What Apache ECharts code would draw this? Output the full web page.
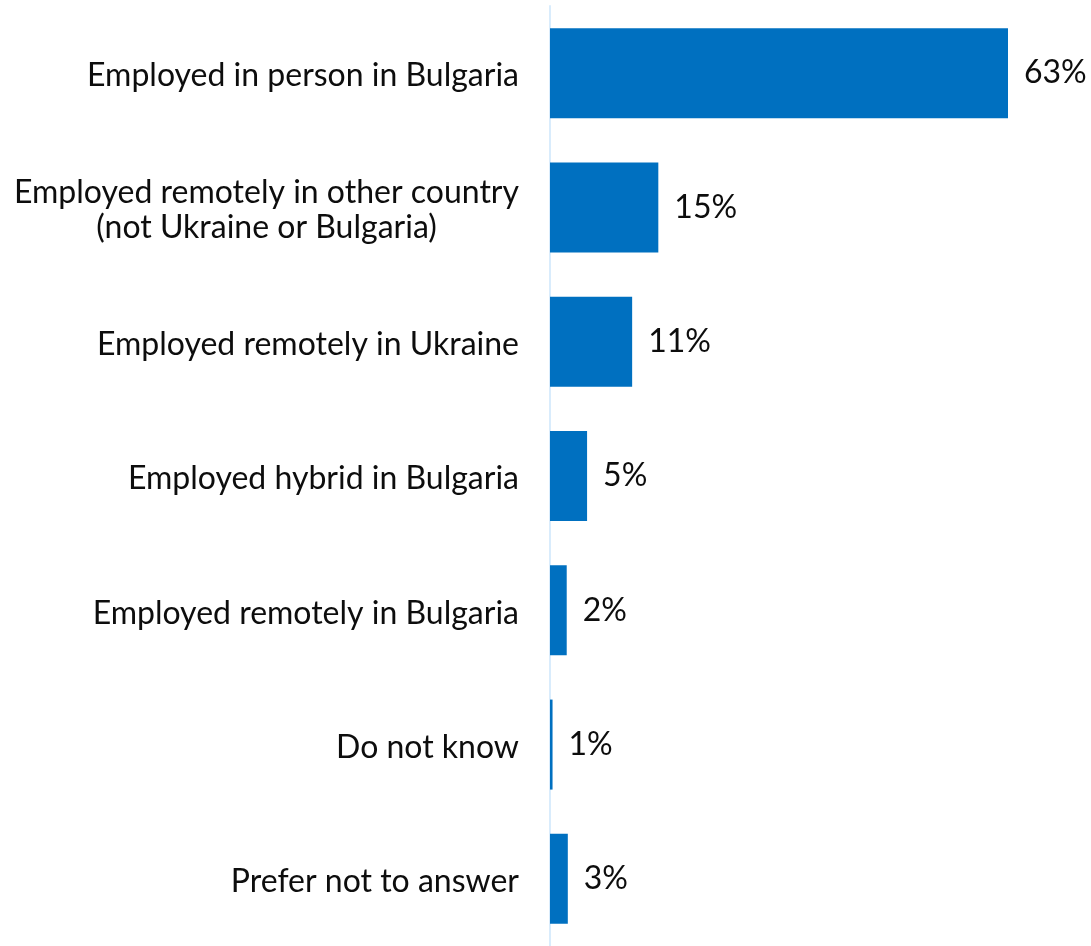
<!DOCTYPE html>
<html>
<head>
<meta charset="utf-8">
<script src="https://cdn.jsdelivr.net/npm/echarts@6/dist/echarts.min.js"></script>
<style>html,body{margin:0;padding:0;background:#fff}#c{width:1091px;height:946px}</style>
</head>
<body>
<div id="c"></div>
<script>
const categories = [
  'Employed in person in Bulgaria',
  'Employed remotely in other country\n(not Ukraine or Bulgaria)',
  'Employed remotely in Ukraine',
  'Employed hybrid in Bulgaria',
  'Employed remotely in Bulgaria',
  'Do not know',
  'Prefer not to answer'
];
const values = [63, 14.9, 11.3, 5.1, 2.3, 0.35, 2.45];
const valueLabels = ['63%', '15%', '11%', '5%', '2%', '1%', '3%'];

const chart = echarts.init(document.getElementById('c'));
chart.setOption({
  animation: false,
  grid: { left: 550, top: 6, width: 458, height: 945, containLabel: false },
  xAxis: { type: 'value', min: 0, max: 63, show: false },
  yAxis: {
    type: 'category', data: categories, inverse: true, offset: 1,
    axisLine: { show: true, lineStyle: { color: '#d9ecfc', width: 2 } },
    axisTick: { show: false },
    axisLabel: {
      margin: 30, align: 'right', padding: [6, 0, 0, 0],
      formatter: v => v.split('\n').map(s => '{a|' + s + '}').join('\n'),
      rich: { a: { color: '#0d0d0d', fontFamily: 'Lato', fontSize: 32, lineHeight: 35, align: 'center' } }
    }
  },
  series: [{
    type: 'bar', data: values, barWidth: 90,
    itemStyle: { color: '#0070c0' },
    label: {
      show: true, position: 'right', distance: 16, padding: [5, 0, 0, 0],
      color: '#0d0d0d', fontFamily: 'Lato', fontSize: 32,
      formatter: p => valueLabels[p.dataIndex]
    }
  }]
});
</script>
</body>
</html>
